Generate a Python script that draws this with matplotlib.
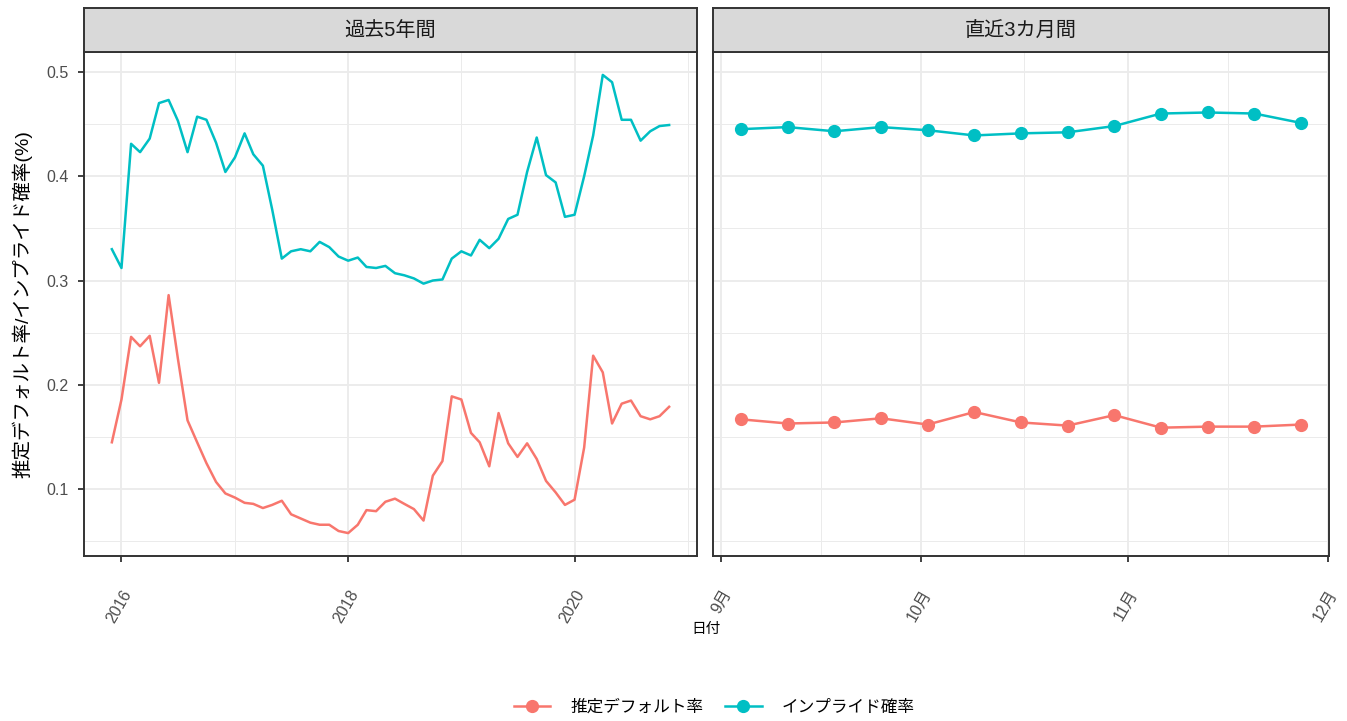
import numpy as np
import pandas as pd
import matplotlib
matplotlib.use('Agg')
from matplotlib import pyplot as plt
import matplotlib.dates as mdates
from matplotlib.lines import Line2D

plt.rcParams['font.family'] = ['Liberation Sans', 'Noto Sans CJK JP', 'DejaVu Sans']

# ---- data ----
# 過去5年間 : monthly, Dec 2015 .. Nov 2020
long_start = '2015-12-01'
long_default = [0.145, 0.186, 0.246, 0.237, 0.247, 0.202, 0.286, 0.225, 0.166, 0.145,
                0.125, 0.107, 0.096, 0.092, 0.087, 0.086, 0.082, 0.085, 0.089, 0.076,
                0.072, 0.068, 0.066, 0.066, 0.060, 0.058, 0.066, 0.080, 0.079, 0.088,
                0.091, 0.086, 0.081, 0.070, 0.113, 0.127, 0.189, 0.186, 0.154, 0.145,
                0.122, 0.173, 0.144, 0.131, 0.144, 0.129, 0.108, 0.097, 0.085, 0.090,
                0.140, 0.228, 0.212, 0.163, 0.182, 0.185, 0.170, 0.167, 0.170, 0.179]
long_implied = [0.330, 0.312, 0.431, 0.423, 0.436, 0.470, 0.473, 0.453, 0.423, 0.457,
                0.454, 0.432, 0.404, 0.418, 0.441, 0.421, 0.410, 0.368, 0.321, 0.328,
                0.330, 0.328, 0.337, 0.332, 0.323, 0.319, 0.322, 0.313, 0.312, 0.314,
                0.307, 0.305, 0.302, 0.297, 0.300, 0.301, 0.321, 0.328, 0.324, 0.339,
                0.331, 0.340, 0.359, 0.363, 0.404, 0.437, 0.401, 0.394, 0.361, 0.363,
                0.400, 0.439, 0.497, 0.490, 0.454, 0.454, 0.434, 0.443, 0.448, 0.449]

# 直近3カ月間 : weekly, 2020-09-04 .. 2020-11-27
short_start = '2020-09-04'
short_default = [0.167, 0.163, 0.164, 0.168, 0.162, 0.174, 0.164, 0.161, 0.171,
                 0.159, 0.160, 0.160, 0.162]
short_implied = [0.445, 0.447, 0.443, 0.447, 0.444, 0.439, 0.441, 0.442, 0.448,
                 0.460, 0.461, 0.460, 0.451]

series_names = ['推定デフォルト率', 'インプライド確率']
colors = ['#F8766D', '#00BFC4']
panel_titles = ['過去5年間', '直近3カ月間']

long_dates = pd.date_range(long_start, periods=len(long_default), freq='MS')
short_dates = pd.date_range(short_start, periods=len(short_default), freq='7D')

# ---- figure ----
W, H = 1347, 721
fig = plt.figure(figsize=(W / 100, H / 100), dpi=100)

def box(x0, y0, x1, y1):
    return [x0 / W, 1 - y1 / H, (x1 - x0) / W, (y1 - y0) / H]

ax1 = fig.add_axes(box(84, 52, 697, 556))
ax2 = fig.add_axes(box(713, 52, 1329, 556))
s1 = fig.add_axes(box(84, 8, 697, 52))
s2 = fig.add_axes(box(713, 8, 1329, 52))

grey20 = '#333333'
all_vals = long_default + long_implied + short_default + short_implied
lo, hi = min(all_vals), max(all_vals)
pad = (hi - lo) * 0.05

def expand(d0, d1):
    a, b = mdates.date2num(d0), mdates.date2num(d1)
    p = (b - a) * 0.05
    return a - p, b + p

for ax in (ax1, ax2):
    ax.set_facecolor('white')
    ax.set_ylim(lo - pad, hi + pad)
    ax.set_yticks([0.1, 0.2, 0.3, 0.4, 0.5])
    ax.set_yticks([0.05, 0.15, 0.25, 0.35, 0.45], minor=True)
    ax.grid(True, which='major', color='#EBEBEB', linewidth=1.3, zorder=0)
    ax.grid(True, which='minor', color='#EBEBEB', linewidth=0.7, zorder=0)
    ax.set_axisbelow(True)
    for sp in ax.spines.values():
        sp.set_color(grey20)
        sp.set_linewidth(1.4)
    ax.tick_params(axis='x', which='major', length=4.5, width=1.3, color=grey20,
                   labelsize=11.5, labelcolor='#4D4D4D', pad=18)
    ax.tick_params(axis='y', which='major', length=4.5, width=1.3, color=grey20,
                   labelsize=11.5, labelcolor='#4D4D4D', pad=6.5)
    ax.tick_params(which='minor', length=0)

# left panel
ax1.plot(long_dates, long_default, color=colors[0], lw=1.8, zorder=3)
ax1.plot(long_dates, long_implied, color=colors[1], lw=1.8, zorder=3)
ax1.set_xlim(*expand(long_dates[0], long_dates[-1]))
ax1.set_xticks(mdates.date2num(pd.to_datetime(['2016-01-01', '2018-01-01', '2020-01-01'])))
ax1.set_xticks(mdates.date2num(pd.to_datetime(['2017-01-01', '2019-01-01', '2021-01-01'])), minor=True)
ax1.set_xticklabels(['2016', '2018', '2020'])
ax1.set_yticklabels(['0.1', '0.2', '0.3', '0.4', '0.5'])
ax1.set_ylabel('推定デフォルト率/インプライド確率(%)', fontsize=14, color='black', labelpad=10)

# right panel
ax2.plot(short_dates, short_default, color=colors[0], lw=1.8, marker='o', ms=8.5, zorder=3)
ax2.plot(short_dates, short_implied, color=colors[1], lw=1.8, marker='o', ms=8.5, zorder=3)
ax2.set_xlim(*expand(short_dates[0], short_dates[-1]))
mon = pd.to_datetime(['2020-09-01', '2020-10-01', '2020-11-01', '2020-12-01'])
mnum = mdates.date2num(mon)
ax2.set_xticks(mnum)
ax2.set_xticks((mnum[:-1] + mnum[1:]) / 2, minor=True)
ax2.set_xticklabels([f'{d.month}月' for d in mon])
ax2.tick_params(axis='y', which='both', left=False, labelleft=False)

for ax in (ax1, ax2):
    for lab in ax.get_xticklabels():
        lab.set_rotation(60)
        lab.set_ha('right')
        lab.set_va('top')
        lab.set_rotation_mode('anchor')

# strips
for s, title in zip((s1, s2), panel_titles):
    s.set_facecolor('#D9D9D9')
    s.set_xticks([])
    s.set_yticks([])
    for sp in s.spines.values():
        sp.set_color(grey20)
        sp.set_linewidth(1.4)
    s.text(0.5, 0.48, title, ha='center', va='center', fontsize=14.5, color='#1A1A1A',
           transform=s.transAxes)

fig.text(706 / W, 1 - 629 / H, '日付', ha='center', va='center', fontsize=10.5)

handles = [Line2D([], [], color=c, lw=1.8, marker='o', ms=8.5) for c in colors]
fig.legend(handles, series_names, loc='center', bbox_to_anchor=(714 / W, 1 - 707 / H),
           ncol=2, frameon=False, fontsize=12, handlelength=2.2, columnspacing=1.3,
           handletextpad=1.2)

fig.savefig('out.png', dpi=100)
